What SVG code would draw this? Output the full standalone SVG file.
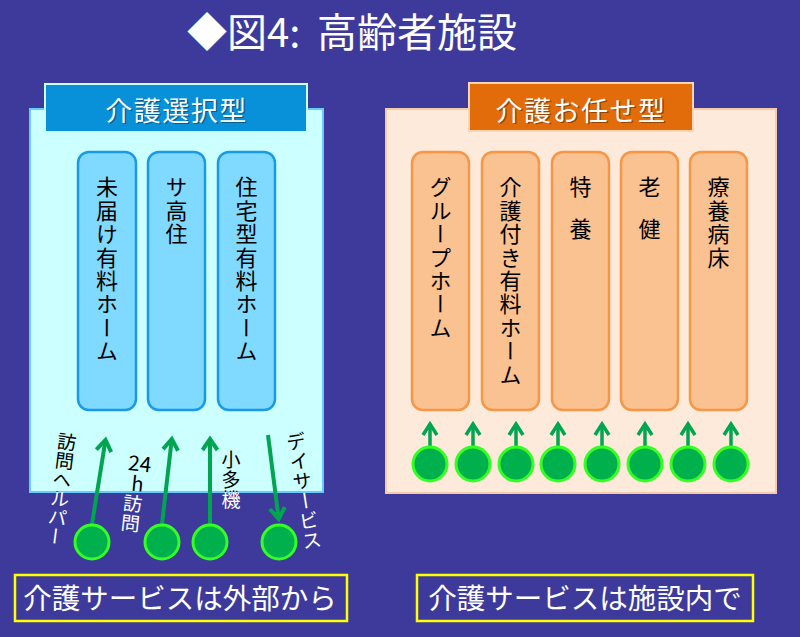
<svg xmlns="http://www.w3.org/2000/svg" xmlns:xlink="http://www.w3.org/1999/xlink" width="800" height="637" viewBox="0 0 800 637">
<style>
text{font-family:"Noto Sans CJK JP","Noto Sans",sans-serif}
.v{writing-mode:vertical-rl}
.col{font-size:22px;letter-spacing:1.4px;fill:#000}
.lcol{fill:#80DAFF;stroke:#1A9AE6;stroke-width:2.5}
.rcol{fill:#FAC191;stroke:#F79646;stroke-width:2.5}
.dot{fill:#00B04C;stroke:#33FF22;stroke-width:3}
.arr{stroke:#00A550;stroke-width:4;fill:none}
.arr2{stroke:#00A550;stroke-width:3.5;fill:none}
.cap{font-size:28.5px;fill:#fff;text-anchor:middle}
.hd{font-size:27px;letter-spacing:1.5px;text-anchor:middle}
.lb{font-size:19px}
</style>
<defs>
<marker id="ah" markerUnits="userSpaceOnUse" viewBox="-14 -10 18 20" markerWidth="18" markerHeight="20" refX="0" refY="0" orient="auto">
<path d="M-11,-7.5 L0,0 L-11,7.5" fill="none" stroke="#00A550" stroke-width="4" stroke-linejoin="miter"/>
</marker>
<marker id="ah2" markerUnits="userSpaceOnUse" viewBox="-14 -10 18 20" markerWidth="18" markerHeight="20" refX="0" refY="0" orient="auto">
<path d="M-11,-7 L0,0 L-11,7" fill="none" stroke="#00A550" stroke-width="3.5"/>
</marker>
<clipPath id="cin"><rect x="30" y="109" width="293" height="383"/></clipPath>
<clipPath id="cout"><path clip-rule="evenodd" d="M0,0H800V637H0Z M30,109V492H323V109Z"/></clipPath>
<g id="lbls">
<text class="v lb" x="61" y="432" transform="rotate(7 61 489)" style="letter-spacing:0px">訪問ヘルパー</text>
<g transform="rotate(6 136 490)">
<text class="lb" x="137" y="471" text-anchor="middle" style="font-size:21px">24</text>
<text class="lb" x="137" y="491" text-anchor="middle" style="font-size:20px">h</text>
<text class="v lb" x="134" y="494" style="letter-spacing:1px">訪問</text>
</g>
<text class="v lb" x="231" y="450" style="letter-spacing:1px">小多機</text>
<text class="v lb" x="304" y="431" transform="rotate(-9 304 492)" style="font-size:19.5px;letter-spacing:0.5px">デイサービス</text>
</g>
</defs>
<rect width="800" height="637" fill="#3D3A9B"/>
<g id="title">
<text x="187" y="47" font-size="40" fill="#fff">◆図4:<tspan x="317">高齢者施設</tspan></text>
</g>
<g id="left-panel">
<rect x="30" y="109" width="293" height="383" fill="#CCFFFF" stroke="#66CCFF" stroke-width="2"/>
<rect x="45" y="84" width="262" height="48" fill="#0891D9" stroke="#CCFFFF" stroke-width="2"/>
<text class="hd" x="178" y="122" fill="#000" opacity="0.35">介護選択型</text>
<text class="hd" x="176.5" y="120.5" fill="#fff">介護選択型</text>
</g>
<g id="l-col1"><rect class="lcol" x="78" y="152" width="58" height="258" rx="11"/><text class="v col" x="107" y="176">未届け有料ホーム</text></g>
<g id="l-col2"><rect class="lcol" x="148" y="152" width="57" height="258" rx="11"/><text class="v col" x="176.5" y="176">サ高住</text></g>
<g id="l-col3"><rect class="lcol" x="218" y="152" width="57" height="258" rx="11"/><text class="v col" x="246.5" y="176">住宅型有料ホーム</text></g>
<g id="right-panel">
<rect x="386" y="109" width="390" height="384" fill="#FDEADB" stroke="#F8CBA8" stroke-width="2"/>
<rect x="469" y="83" width="224" height="48" fill="#E36C0A" stroke="#FCD5B4" stroke-width="2"/>
<text class="hd" x="582.5" y="122" fill="#000" opacity="0.35">介護お任せ型</text>
<text class="hd" x="581" y="120.5" fill="#fff">介護お任せ型</text>
</g>
<g id="r-col1"><rect class="rcol" x="412" y="152" width="57" height="258" rx="11"/><text class="v col" x="440.5" y="176">グループホーム</text></g>
<g id="r-col2"><rect class="rcol" x="482" y="152" width="57" height="258" rx="11"/><text class="v col" x="510.5" y="176">介護付き有料ホーム</text></g>
<g id="r-col3"><rect class="rcol" x="552" y="152" width="57" height="258" rx="11"/><text class="v col" x="580.5" y="176">特</text><text class="v col" x="580.5" y="218">養</text></g>
<g id="r-col4"><rect class="rcol" x="621" y="152" width="57" height="258" rx="11"/><text class="v col" x="649.5" y="176">老</text><text class="v col" x="649.5" y="218">健</text></g>
<g id="r-col5"><rect class="rcol" x="690" y="152" width="57" height="258" rx="11"/><text class="v col" x="718.5" y="176">療養病床</text></g>
<g id="connectors">
<line class="arr" x1="92" y1="524" x2="105.5" y2="440" marker-end="url(#ah)"/>
<line class="arr" x1="162" y1="524" x2="171.8" y2="439" marker-end="url(#ah)"/>
<line class="arr" x1="210" y1="524" x2="210" y2="439" marker-end="url(#ah)"/>
<line class="arr" x1="268" y1="435" x2="278.7" y2="519" marker-end="url(#ah)"/>
<line class="arr2" x1="430" y1="447" x2="430" y2="424" marker-end="url(#ah2)"/>
<line class="arr2" x1="473" y1="447" x2="473" y2="424" marker-end="url(#ah2)"/>
<line class="arr2" x1="516" y1="447" x2="516" y2="424" marker-end="url(#ah2)"/>
<line class="arr2" x1="558" y1="447" x2="558" y2="424" marker-end="url(#ah2)"/>
<line class="arr2" x1="602" y1="447" x2="602" y2="424" marker-end="url(#ah2)"/>
<line class="arr2" x1="645" y1="447" x2="645" y2="424" marker-end="url(#ah2)"/>
<line class="arr2" x1="688" y1="447" x2="688" y2="424" marker-end="url(#ah2)"/>
<line class="arr2" x1="731" y1="447" x2="731" y2="424" marker-end="url(#ah2)"/>
</g>
<g id="l-services">
<circle class="dot" cx="92" cy="542" r="17"/>
<circle class="dot" cx="162" cy="542" r="17"/>
<circle class="dot" cx="210" cy="542" r="17"/>
<circle class="dot" cx="279" cy="542" r="17"/>
</g>
<g id="l-labels">
<use xlink:href="#lbls" fill="#000" clip-path="url(#cin)"/>
<use xlink:href="#lbls" fill="#fff" clip-path="url(#cout)"/>
</g>
<g id="r-services">
<circle class="dot" cx="430" cy="464" r="17"/>
<circle class="dot" cx="473" cy="464" r="17"/>
<circle class="dot" cx="516" cy="464" r="17"/>
<circle class="dot" cx="558" cy="464" r="17"/>
<circle class="dot" cx="602" cy="464" r="17"/>
<circle class="dot" cx="645" cy="464" r="17"/>
<circle class="dot" cx="688" cy="464" r="17"/>
<circle class="dot" cx="731" cy="464" r="17"/>
</g>
<g id="caption-left">
<rect x="15" y="575" width="332" height="46" fill="none" stroke="#FFFF00" stroke-width="2.5"/>
<text class="cap" x="180" y="609">介護サービスは外部から</text>
</g>
<g id="caption-right">
<rect x="417" y="575" width="336" height="46" fill="none" stroke="#FFFF00" stroke-width="2.5"/>
<text class="cap" x="585" y="609">介護サービスは施設内で</text>
</g>
</svg>
